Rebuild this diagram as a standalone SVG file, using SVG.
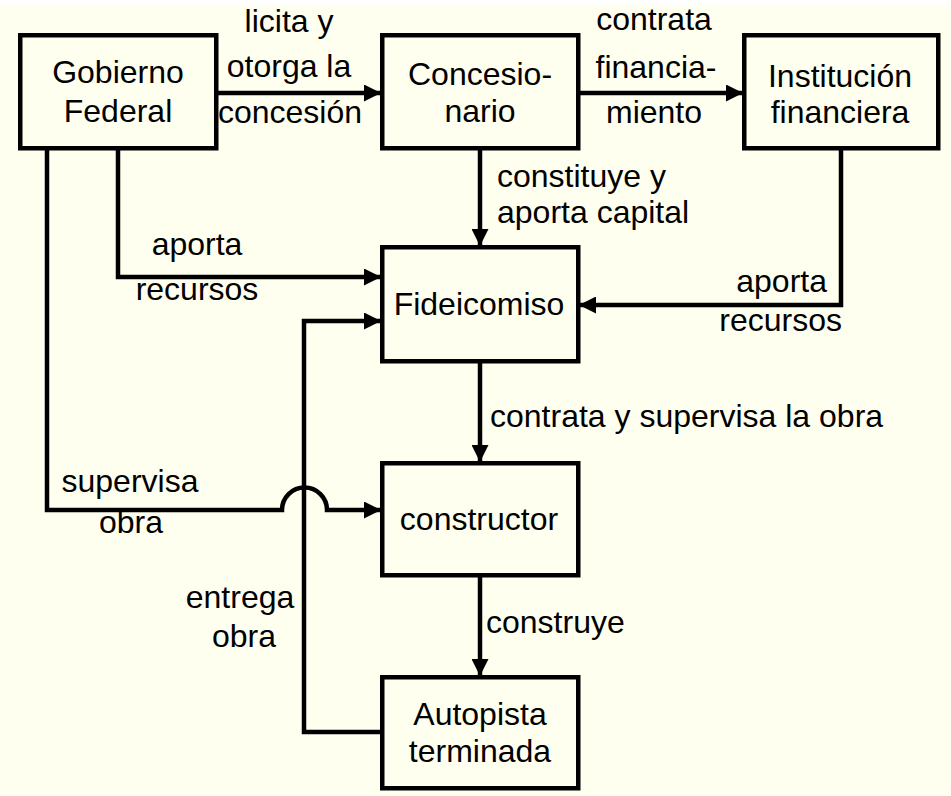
<svg xmlns="http://www.w3.org/2000/svg" width="951" height="796" viewBox="0 0 951 796">
<style>
.box{fill:none;stroke:#000;stroke-width:4.5}
.ln{fill:none;stroke:#000;stroke-width:4.5;stroke-linejoin:miter}
.arr{marker-end:url(#ah)}
text{font-family:"Liberation Sans",Arial,sans-serif;font-size:32px;fill:#000}
.m{text-anchor:middle}
.e{text-anchor:end}
</style>
<defs>
<marker id="ah" markerUnits="userSpaceOnUse" markerWidth="17" markerHeight="17" refX="16" refY="8.5" orient="auto">
<path d="M0,0 L17,8.5 L0,17 z" fill="#000"/>
</marker>
</defs>
<rect x="0" y="0" width="951" height="796" fill="#ffffff"/>
<rect x="0" y="5" width="951" height="791" fill="#fffff0"/>

<g id="connectors">
<path class="ln arr" d="M218,93 H380"/>
<path class="ln arr" d="M580,93 H742"/>
<path class="ln arr" d="M480,150 V245"/>
<path class="ln arr" d="M118,150 V277 H380"/>
<path class="ln arr" d="M841,150 V305 H580"/>
<path class="ln arr" d="M480,363 V461"/>
<path class="ln arr" d="M480,577 V675"/>
<path class="ln arr" d="M380,732 H304 V321 H380"/>
<path class="ln arr" d="M47,150 V510 H282 A22.5,22.5 0 0 1 327,510 H380"/>
</g>

<g id="gobierno">
<rect class="box" x="20.25" y="35.25" width="196" height="113"/>
<text class="m" x="118" y="83">Gobierno</text>
<text class="m" x="118" y="122">Federal</text>
</g>
<g id="concesionario">
<rect class="box" x="382.25" y="35.25" width="196" height="113"/>
<text class="m" x="480" y="85">Concesio-</text>
<text class="m" x="480" y="122">nario</text>
</g>
<g id="institucion">
<rect class="box" x="744.25" y="35.25" width="194" height="113"/>
<text class="m" x="840" y="87">Institución</text>
<text class="m" x="840" y="123">financiera</text>
</g>
<g id="fideicomiso">
<rect class="box" x="382.25" y="247.25" width="196" height="114"/>
<text class="m" x="479" y="315">Fideicomiso</text>
</g>
<g id="constructor">
<rect class="box" x="382.25" y="463.25" width="196" height="112"/>
<text class="m" x="479" y="530">constructor</text>
</g>
<g id="autopista">
<rect class="box" x="382.25" y="677.25" width="196" height="111"/>
<text class="m" x="480" y="725">Autopista</text>
<text class="m" x="480" y="762">terminada</text>
</g>

<g id="labels">
<text class="m" x="289" y="32">licita y</text>
<text class="m" x="289" y="77">otorga la</text>
<text class="m" x="290" y="123">concesión</text>
<text class="m" x="654" y="30">contrata</text>
<text class="m" x="656" y="78">financia-</text>
<text class="m" x="654" y="123">miento</text>
<text x="497" y="187">constituye y</text>
<text x="497" y="223">aporta capital</text>
<text class="m" x="197" y="255">aporta</text>
<text class="m" x="197" y="300">recursos</text>
<text class="e" x="827" y="292">aporta</text>
<text class="e" x="842" y="331">recursos</text>
<text x="490" y="427">contrata y supervisa la obra</text>
<text class="m" x="130" y="492">supervisa</text>
<text class="m" x="131" y="533">obra</text>
<text class="m" x="240" y="608">entrega</text>
<text class="m" x="244" y="647">obra</text>
<text x="486" y="633">construye</text>
</g>
</svg>
